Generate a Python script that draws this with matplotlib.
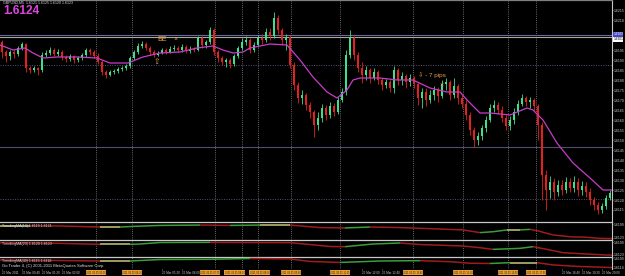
import numpy as np
import matplotlib.pyplot as plt
import matplotlib.transforms as mtransforms
from matplotlib.collections import LineCollection

plt.rcParams['font.family'] = ['Liberation Sans', 'DejaVu Sans']

# GBPUSD bars, 25 Mar 2011 (bar index = position on the chart)
first_open = 1.6199
closes = [
    1.6194, 1.6192, 1.6194, 1.6193, 1.6196, 1.6198, 1.6186, 1.6185, 1.6186, 1.6185,
    1.61925, 1.61935, 1.6195, 1.6193, 1.6194, 1.61915, 1.61905, 1.6192, 1.6190, 1.6191,
    1.61925, 1.6195, 1.6194, 1.6192, 1.6189, 1.6184, 1.61825, 1.6184, 1.61845, 1.61855,
    1.6186, 1.6187, 1.6191, 1.6194, 1.6197, 1.6198, 1.6196, 1.6194, 1.61925, 1.61935,
    1.6195, 1.6194, 1.61955, 1.6196, 1.6195, 1.61965, 1.61945, 1.61955, 1.6195, 1.6201,
    1.61975, 1.6199, 1.6205, 1.6194, 1.6191, 1.6189, 1.6190, 1.6188, 1.6192, 1.6196,
    1.6199, 1.6200, 1.6195, 1.61975, 1.6201, 1.6200, 1.6204, 1.6202, 1.6211, 1.6205,
    1.6200, 1.62015, 1.61875, 1.61775, 1.6171, 1.61725, 1.61675, 1.6164, 1.61575, 1.6161,
    1.6166, 1.61625, 1.6167, 1.6164, 1.6170, 1.6174, 1.61925, 1.6201, 1.61925, 1.6186,
    1.61825, 1.6185, 1.6181, 1.6184, 1.6180, 1.61775, 1.6179, 1.6176, 1.6185, 1.6180,
    1.6182, 1.6179, 1.6181, 1.6178, 1.6171, 1.6174, 1.6170, 1.61725, 1.6175, 1.6172,
    1.6178, 1.6179, 1.61725, 1.6177, 1.6171, 1.6168, 1.61625, 1.6155, 1.6150, 1.6152,
    1.6156, 1.6160, 1.6166, 1.61675, 1.6165, 1.6161, 1.6157, 1.6160, 1.6164, 1.6168,
    1.6171, 1.6169, 1.6170, 1.6167, 1.61575, 1.61325, 1.6125, 1.6129, 1.6124, 1.61275,
    1.6125, 1.6129, 1.6126, 1.6129, 1.6125, 1.6127, 1.6124, 1.6120, 1.61175, 1.6115,
    1.6117, 1.6121, 1.61235]
highs = [
    1.6200, 1.6195, 1.6195, 1.6195, 1.6197, 1.6199, 1.61985, 1.6187, 1.6187, 1.61865,
    1.6194, 1.6195, 1.61965, 1.6196, 1.61955, 1.6195, 1.61925, 1.6193, 1.61925, 1.6192,
    1.61935, 1.6196, 1.6196, 1.6195, 1.61935, 1.6190, 1.6185, 1.6185, 1.61855, 1.61865,
    1.6187, 1.6188, 1.6192, 1.6195, 1.61985, 1.61995, 1.6199, 1.6197, 1.6195, 1.61945,
    1.6196, 1.6196, 1.6197, 1.61975, 1.6197, 1.6198, 1.61975, 1.6197, 1.61965, 1.6202,
    1.6202, 1.6200, 1.62065, 1.6206, 1.6195, 1.6192, 1.6191, 1.6191, 1.6193, 1.6197,
    1.6201, 1.6202, 1.6201, 1.6199, 1.62025, 1.6203, 1.6206, 1.6206, 1.6214, 1.62125,
    1.6206, 1.6203, 1.62025, 1.6189, 1.6179, 1.6175, 1.61735, 1.6169, 1.6165, 1.6164,
    1.6168, 1.61675, 1.6169, 1.61685, 1.61715, 1.6176, 1.6195, 1.6205, 1.6202, 1.6194,
    1.6189, 1.6187, 1.6186, 1.6186, 1.6185, 1.6181, 1.61805, 1.6180, 1.6187, 1.6186,
    1.6184, 1.6183, 1.6183, 1.6182, 1.6179, 1.6176, 1.6176, 1.6175, 1.6177, 1.61765,
    1.6180, 1.6181, 1.6180, 1.6181, 1.6178, 1.61725, 1.6170, 1.6164, 1.61565, 1.6154,
    1.61575, 1.6162, 1.6168, 1.6170, 1.6169, 1.6167, 1.61625, 1.6162, 1.6166, 1.6170,
    1.6173, 1.6172, 1.61715, 1.6171, 1.6168, 1.6159, 1.6135, 1.6132, 1.6131, 1.6130,
    1.6130, 1.61315, 1.6131, 1.6132, 1.6131, 1.61295, 1.6129, 1.6126, 1.61215, 1.6119,
    1.61185, 1.61225, 1.6125]
lows = [
    1.6191, 1.6189, 1.6190, 1.6191, 1.6192, 1.6195, 1.6184, 1.61835, 1.6184, 1.61825,
    1.6184, 1.61915, 1.61925, 1.6192, 1.6192, 1.6190, 1.6189, 1.61895, 1.61885, 1.6189,
    1.6190, 1.61915, 1.61925, 1.6191, 1.6188, 1.61825, 1.6181, 1.6182, 1.6183, 1.61835,
    1.61845, 1.6185, 1.6186, 1.6190, 1.6193, 1.6196, 1.6195, 1.61925, 1.61915, 1.6192,
    1.6193, 1.6193, 1.61935, 1.61945, 1.6194, 1.6194, 1.61935, 1.61935, 1.6194, 1.61945,
    1.6196, 1.6196, 1.6198, 1.61925, 1.6189, 1.61875, 1.61865, 1.6186, 1.6187, 1.6191,
    1.6195, 1.61975, 1.61935, 1.6194, 1.61965, 1.6198, 1.6199, 1.6200, 1.6201, 1.6203,
    1.61975, 1.6195, 1.6186, 1.6175, 1.61685, 1.6168, 1.6165, 1.6161, 1.61515, 1.6155,
    1.6159, 1.6160, 1.6161, 1.6162, 1.6163, 1.6169, 1.61725, 1.6191, 1.6190, 1.6184,
    1.61785, 1.6180, 1.61785, 1.6180, 1.6178, 1.6175, 1.6176, 1.6174, 1.61735, 1.61775,
    1.61775, 1.6176, 1.6177, 1.6176, 1.61675, 1.6166, 1.6167, 1.61685, 1.6170, 1.6169,
    1.6171, 1.6175, 1.6170, 1.6171, 1.6168, 1.6166, 1.6160, 1.61525, 1.61465, 1.61475,
    1.6150, 1.6154, 1.6159, 1.6164, 1.6163, 1.6159, 1.6155, 1.6155, 1.6158, 1.61625,
    1.6167, 1.6167, 1.6166, 1.6165, 1.6150, 1.6120, 1.6115, 1.6121, 1.6120, 1.6122,
    1.61225, 1.61235, 1.6124, 1.6124, 1.6122, 1.61225, 1.61215, 1.61175, 1.6115, 1.6113,
    1.61135, 1.61155, 1.6120]
opens = [first_open] + closes[:-1]

# moving average on the main chart
ma_bars = [-0.5, 2.75, 5.75, 7.75, 10.25, 13.75, 18.75, 23.75, 27, 31.5, 35.25, 39.5,
           44.5, 48.75, 52.75, 55.25, 57.75, 60.25, 62, 67, 71.25, 74.5, 77.75, 81.25,
           83.75, 86.25, 87.75, 89.5, 94.5, 98.75, 102.75, 107, 111.25, 114.5, 116.25,
           119.5, 122, 127, 131.25, 132.75, 135.25, 138.75, 142.75, 147, 150.25, 152.5]
ma_vals = [1.61975, 1.6195, 1.6196, 1.61935, 1.6191, 1.61915, 1.61915, 1.6191, 1.61885,
           1.61885, 1.61915, 1.61935, 1.6194, 1.6196, 1.6197, 1.6195, 1.61935, 1.6194,
           1.6196, 1.6198, 1.61975, 1.6190, 1.61815, 1.6174, 1.6171, 1.6175, 1.6180,
           1.6181, 1.6181, 1.6180, 1.6180, 1.6176, 1.6174, 1.6174, 1.6170, 1.61635,
           1.61635, 1.61625, 1.6166, 1.6165, 1.6160, 1.61485, 1.61385, 1.6131, 1.6125,
           1.6125]

# TrendingMA sub-windows
tma1_bars = [-0.5, 7, 14.5, 19.5, 24.5, 29.5, 33.25, 39.5, 49.5, 57, 64.5, 72, 79.5,
             85.75, 92, 99.5, 104.5, 109.5, 115.25, 119.5, 122.75, 126.25, 129.5, 132,
             133.75, 137.75, 142, 146.25, 149.5, 152.5]
tma1_vals = [1.6190, 1.6190, 1.6189, 1.6186, 1.6183, 1.6183, 1.6187, 1.6192, 1.6194,
             1.6192, 1.6194, 1.6194, 1.6180, 1.6178, 1.6183, 1.6180, 1.6176, 1.6172,
             1.6167, 1.6152, 1.6157, 1.6167, 1.6167, 1.6170, 1.6163, 1.6139, 1.6129,
             1.6126, 1.6120, 1.6119]
tma2_bars = [-0.5, 14.5, 24.5, 32, 34.5, 39.5, 52, 59.5, 72, 77, 82, 85.75, 92.75, 99.5,
             104.5, 115.25, 118.75, 122.75, 129.5, 132.75, 136.25, 140.25, 146.25,
             151.25, 152.5]
tma2_vals = [1.6195, 1.6191, 1.6185, 1.6185, 1.6187, 1.6196, 1.6197, 1.6196, 1.6195,
             1.6184, 1.6172, 1.6171, 1.6187, 1.6193, 1.6184, 1.6175, 1.6167, 1.6155,
             1.6161, 1.6171, 1.6155, 1.6135, 1.6127, 1.6121, 1.6120]
tma3_bars = [-0.5, 14.5, 24.5, 32, 39.5, 52, 62, 72, 77, 84.5, 94.5, 104.5, 112, 117,
             122, 127, 133.75, 137.75, 144.5, 152.5]
tma3_vals = [1.6182, 1.6177, 1.6173, 1.6173, 1.6186, 1.6188, 1.6195, 1.6191, 1.6169,
             1.6160, 1.6173, 1.6176, 1.6167, 1.6153, 1.6151, 1.6158, 1.6158, 1.6138,
             1.6124, 1.6115]
tma_titles = ['TrendingMA(10) 1.6119 1.6121', 'TrendingMA(20) 1.6120 1.6123',
              'TrendingMA(40) 1.6115 1.6118']

# chart objects
vline_bars = [23.5, 32.5, 53.25, 60, 64, 72.25, 84.5, 102.75, 115.25, 126.5, 133.5]
vline_label_bars = [23.5, 32.5, 52, 58.2, 64.4, 72.25, 84.5, 102.75, 115.25, 126.5, 133.5]
vline_labels = ['2011.03.25 03:10', '2011.03.25 04:20', '2011.03.25 07:05',
                '2011.03.25 08:00', '2011.03.25 08:30', '2011.03.25 09:40',
                '2011.03.25 11:15', '2011.03.25 13:40', '2011.03.25 15:20',
                '2011.03.25 16:50', '2011.03.25 17:50']
hline_dotted = [1.61875, 1.61205]
hline_solid = [1.61465]
level_blue = 1.62025
level_white = 1.620125

time_bars = list(range(0, 151, 5))
time_labels = ['25 Mar 2011', '25 Mar 00:40', '25 Mar 01:20', '25 Mar 02:00',
               '25 Mar 02:40', '25 Mar 03:20', '25 Mar 04:00', '25 Mar 04:40',
               '25 Mar 05:20', '25 Mar 06:00', '25 Mar 06:40', '25 Mar 07:20',
               '25 Mar 08:00', '25 Mar 08:40', '25 Mar 09:20', '25 Mar 10:00',
               '25 Mar 10:40', '25 Mar 11:20', '25 Mar 12:00', '25 Mar 12:40',
               '25 Mar 13:20', '25 Mar 14:00', '25 Mar 14:40', '25 Mar 15:20',
               '25 Mar 16:00', '25 Mar 16:40', '25 Mar 17:20', '25 Mar 18:00',
               '25 Mar 18:40', '25 Mar 19:20', '25 Mar 20:00']
price_ticks = np.arange(1.6115, 1.62151, 0.0005)

W, H = 625, 276
fig = plt.figure(figsize=(W / 100, H / 100), dpi=100, facecolor='black')


def window(top, bottom):
    ax = fig.add_axes([0, 1 - bottom / H, 612 / W, (bottom - top) / H])
    ax.set_facecolor('black')
    ax.set_xlim(-0.5, 152.5)
    for s in ['left', 'bottom']:
        ax.spines[s].set_visible(False)
    ax.spines['right'].set_color('#c8c8c8')
    ax.spines['right'].set_linewidth(0.8)
    ax.spines['top'].set_color('#c8c8c8')
    ax.spines['top'].set_linewidth(0.9)
    ax.yaxis.tick_right()
    ax.tick_params(axis='y', colors='#d0d0d0', labelsize=2.5, length=0.8, width=0.4, pad=0.3)
    ax.tick_params(axis='x', bottom=False, labelbottom=False)
    for b in vline_bars:
        ax.axvline(b, color='#8c8c8c', lw=0.6, ls=(0, (1, 1.6)), zorder=1)
    return ax


ax = window(0, 222)
ax.spines['top'].set_color('#808080')
ax.set_ylim(1.6109, 1.6220)
# tick labels sitting under the two highlighted level boxes are covered in the terminal
main_ticks = [v for v in price_ticks if abs(v - level_blue) > 0.00035]
ax.set_yticks(main_ticks)
ax.set_yticklabels([f'{v:.4f}' for v in main_ticks])

for y in hline_dotted:
    ax.axhline(y, color='#54547a', lw=0.7, ls=(0, (1, 1.5)), zorder=1)
for y in hline_solid:
    ax.axhline(y, color='#4e4e72', lw=0.8, zorder=1)
ax.axhline(level_blue, color='#6a6aa0', lw=0.8, zorder=1)
ax.axhline(level_white, color='#a8a8a8', lw=0.8, zorder=1)

bars = np.arange(len(closes))
o = np.array(opens)
c = np.array(closes)
up = c >= o
cols = np.where(up, '#3ee08e', '#e8201c')
ax.vlines(bars, lows, highs, colors=cols, lw=0.6, zorder=2)
body = np.maximum(np.abs(c - o), 0.00003)
ax.bar(bars, body, bottom=np.minimum(o, c), width=0.62, color=cols, lw=0, zorder=3)
ax.plot(ma_bars, ma_vals, color='#c83cc8', lw=0.9, zorder=4)

trans = mtransforms.blended_transform_factory(ax.transAxes, ax.transData)
ax.text(1.002, level_blue + 0.00003, '1.6203', transform=trans, fontsize=2.3, color='white',
        va='center', ha='left', clip_on=False,
        bbox=dict(boxstyle='square,pad=0.1', fc='#4646c8', ec='none'))
ax.text(1.002, level_white - 0.0001, '1.6201', transform=trans, fontsize=2.3, color='black',
        va='center', ha='left', clip_on=False,
        bbox=dict(boxstyle='square,pad=0.1', fc='white', ec='none'))

orange = '#e8a040'
ax.text(40, 1.62003, 'BE', color=orange, fontsize=5, ha='center', va='center', zorder=6)
ax.text(43.5, 1.62005, '×', color=orange, fontsize=5, ha='center', va='center', zorder=6)
ax.text(38.75, 1.61885, '⇧', color=orange, fontsize=5.5, ha='center', va='center', zorder=6)
ax.text(104, 1.61825, '⇩ - 7 pips', color=orange, fontsize=4.6, ha='left', va='center', zorder=6)
ax.text(110, 1.61775, '×', color=orange, fontsize=5, ha='center', va='center', zorder=6)

fig.text(3 / W, 1 - 2.3 / H, 'GBPUSD,M5  1.6121 1.6125 1.6120 1.6123', color='#d8d8d8',
         fontsize=2.6, va='center', ha='left')
fig.text(3 / W, 1 - 10.5 / H, '1.6124', color='#dc46dc', fontsize=8.6, fontweight='bold',
         va='center', ha='left')

# indicator windows
sub = [(222, 240, tma1_bars, tma1_vals, (1.6111, 1.6211)),
       (240, 256.7, tma2_bars, tma2_vals, (1.6111, 1.6211)),
       (256.7, 269, tma3_bars, tma3_vals, (1.6102, 1.6211))]
subaxes = []
for (top, bottom, xb, yv, lim), title in zip(sub, tma_titles):
    a = window(top, bottom)
    a.set_ylim(*lim)
    pts = np.column_stack([xb, yv])
    segs = np.stack([pts[:-1], pts[1:]], axis=1)
    d = np.diff(yv)
    seg_cols = ['#3c9c3c' if v > 0.00002 else ('#a01c1c' if v < -0.00002 else '#c8c878')
                for v in d]
    a.add_collection(LineCollection(segs, colors=seg_cols, lw=1.1, zorder=3))
    a.set_yticks([lim[1] - 0.0012, lim[0] + 0.0012])
    a.set_yticklabels([f'{lim[1] - 0.0012:.4f}', f'{lim[0] + 0.0012:.4f}'])
    a.text(0.004, 1 - 4 / (bottom - top), title, transform=a.transAxes, fontsize=2.6,
           color='#d8d8d8', va='center', ha='left', zorder=6)
    subaxes.append(a)

# time labels hidden behind the orange line labels are not drawn (as in the terminal)
shown = [(t, lab) for t, lab in zip(time_bars, time_labels)
         if all(t + 3.8 < vb - 2.9 or t > vb + 2.9 for vb in vline_label_bars)]

bot = subaxes[-1]
bot.tick_params(axis='x', bottom=True, labelbottom=True, length=1.0, width=0.4,
                colors='#c8c8c8', labelsize=2.2, pad=0.8)
bot.set_xticks([t for t, _ in shown])
bot.set_xticklabels([lab for _, lab in shown], ha='left')
xtrans = bot.get_xaxis_transform()
for b, lab in zip(vline_label_bars, vline_labels):
    bot.text(b, -0.29, lab, transform=xtrans, fontsize=1.8, color='#202020', ha='center',
             va='center', clip_on=False, zorder=8,
             bbox=dict(boxstyle='square,pad=0.15', fc='#f0a028', ec='none'))

fig.text(2 / W, 1 - 266.5 / H, 'Go Trader 4, (C) 2001-2011 MetaQuotes Software Corp.',
         color='#e0e0e0', fontsize=3, va='center', ha='left')

fig.savefig('out.png', dpi=100, facecolor='black')
